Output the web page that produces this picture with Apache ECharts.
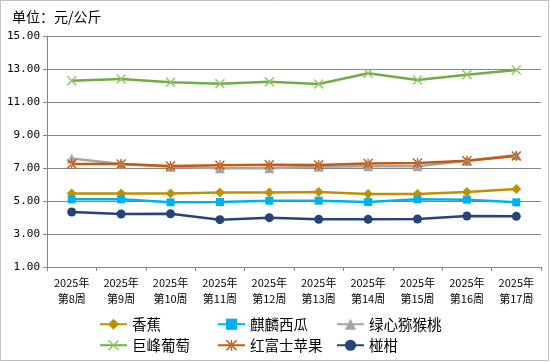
<!DOCTYPE html>
<html><head><meta charset="utf-8">
<script src="https://cdn.jsdelivr.net/npm/echarts@6/dist/echarts.min.js"></script>
<style>html,body{margin:0;padding:0;background:#fff}#c{width:550px;height:362px}</style>
</head><body><div id="c"></div>
<script>
const categories = ['2025年\n第8周','2025年\n第9周','2025年\n第10周','2025年\n第11周','2025年\n第12周','2025年\n第13周','2025年\n第14周','2025年\n第15周','2025年\n第16周','2025年\n第17周'];
const banana     = [5.46, 5.46, 5.46, 5.52, 5.52, 5.55, 5.42, 5.42, 5.55, 5.73];
const watermelon = [5.10, 5.10, 4.92, 4.94, 5.02, 5.02, 4.94, 5.10, 5.08, 4.92];
const kiwi       = [7.57, 7.24, 7.08, 6.98, 6.98, 7.08, 7.10, 7.10, 7.44, 7.79];
const grape      = [12.29, 12.39, 12.19, 12.11, 12.23, 12.09, 12.74, 12.33, 12.65, 12.94];
const apple      = [7.24, 7.24, 7.12, 7.16, 7.20, 7.18, 7.28, 7.30, 7.44, 7.73];
const citrus     = [4.33, 4.21, 4.23, 3.87, 3.99, 3.89, 3.89, 3.91, 4.09, 4.07];
const yTicks = [1, 3, 5, 7, 9, 11, 13, 15];

const X = 'path://M0,1L1,0L5,4L9,0L10,1L6,5L10,9L9,10L5,6L1,10L0,9L4,5Z';
const STAR = 'path://M0,1L1,0L5,4L9,0L10,1L6,5L10,9L9,10L5,6L1,10L0,9L4,5Z M4.4,0L4.4,10L5.6,10L5.6,0Z';
const defs = [
  {name:'香蕉', data:banana, color:'#BF9000', symbol:'diamond', size:10},
  {name:'麒麟西瓜', data:watermelon, color:'#00B0F0', symbol:'rect', size:8},
  {name:'绿心猕猴桃', data:kiwi, color:'#A5A5A5', symbol:'triangle', size:10},
  {name:'巨峰葡萄', data:grape, color:'#70AD47', symbol:X, size:10, sc:'#8BC765'},
  {name:'红富士苹果', data:apple, color:'#C55A11', symbol:STAR, size:10},
  {name:'椪柑', data:citrus, color:'#264478', symbol:'circle', size:9}
];
const font = '"Noto Sans CJK SC", "DejaVu Sans", sans-serif';
const legendPos = [[94,312],[212,312],[331,312],[94,333],[212,333],[331,333]];
const chart = echarts.init(document.getElementById('c'), null, {renderer:'canvas'});
chart.setOption({
  animation:false,
  title:{text:'单位：元/公斤', left:7, top:5, textStyle:{fontSize:14, fontWeight:'normal', color:'#000', fontFamily:font}},
  graphic:[{type:'rect', shape:{x:0.5,y:0.5,width:548,height:360}, style:{fill:'none', stroke:'#BFBFBF', lineWidth:1}, silent:true}],
  legend: defs.map((d,i)=>({data:[d.name], left:legendPos[i][0], top:legendPos[i][1], itemWidth:27, itemHeight:14, itemGap:5,
    textStyle:{fontSize:14.5, color:'#000', fontFamily:font}})),
  grid:{left:47, right:9, top:36, bottom:95, containLabel:false},
  xAxis:{type:'category', data:categories, boundaryGap:true,
    axisLine:{lineStyle:{color:'#868686'}}, axisTick:{show:true, length:4, lineStyle:{color:'#868686'}},
    axisLabel:{interval:0, fontSize:11, color:'#000', lineHeight:16, margin:8, fontFamily:font}},
  yAxis:{type:'value', min:yTicks[0], max:yTicks[yTicks.length-1], interval:2,
    axisLine:{show:true, lineStyle:{color:'#868686'}}, axisTick:{show:true, length:4, lineStyle:{color:'#868686'}},
    splitLine:{lineStyle:{color:'#868686'}},
    axisLabel:{fontSize:11, color:'#000', margin:7, fontFamily:'"DejaVu Sans Mono", monospace', formatter:v=>v.toFixed(2)}},
  series: defs.map(d=>({name:d.name, type:'line', data:d.data, symbol:d.symbol, symbolSize:d.size,
    lineStyle:{color:d.color, width:2.5}, itemStyle:{color:d.sc||d.color}, color:d.color}))
});
</script></body></html>
